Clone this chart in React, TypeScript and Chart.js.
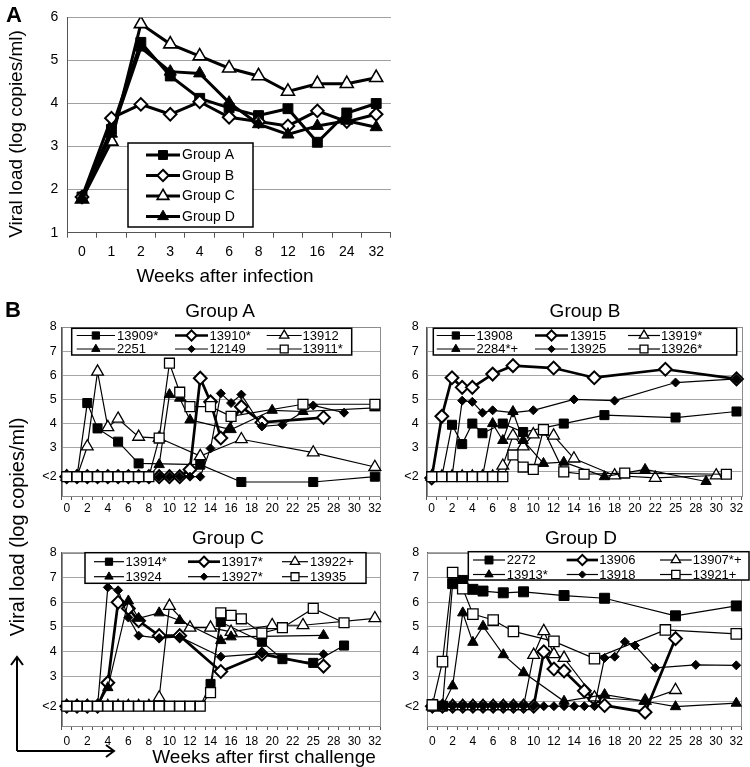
import React, { useEffect, useRef } from 'react';
import { Chart, registerables } from 'chart.js';
Chart.register(...registerables);

const FONT = "'Liberation Sans', Arial, Helvetica, sans-serif";

// ---------------- Panel A data ----------------
const A_WEEKS = ['0', '1', '2', '3', '4', '6', '8', '12', '16', '24', '32'];
const A_GROUP_A = [1.83, 3.4, 5.42, 4.64, 4.12, 3.9, 3.72, 3.88, 3.1, 3.78, 4.0];
const A_GROUP_B = [1.83, 3.66, 3.98, 3.75, 4.04, 3.68, 3.58, 3.48, 3.83, 3.58, 3.75];
const A_GROUP_C = [1.78, 3.12, 5.85, 5.38, 5.1, 4.82, 4.64, 4.28, 4.46, 4.46, 4.6];
const A_GROUP_D = [1.78, 3.3, 5.3, 4.74, 4.7, 4.02, 3.52, 3.28, 3.48, 3.6, 3.45];
const A_Y_TICKS = [1, 2, 3, 4, 5, 6];

// ---------------- Panel B axes ----------------
const B_WEEKS = ['0', '1', '2', '3', '4', '5', '6', '7', '8', '9', '10', '11', '12', '13', '14', '15', '16', '17', '18', '19', '20', '21', '22', '23', '25', '26', '28', '29', '30', '31', '32'];
const B_Y_TICKS = [1, 1.8, 2, 3, 4, 5, 6, 7, 8]; // 1.8 is the "<2" level

// ---------------- Group A ----------------
const GA_13909_W = ['0', '1', '2', '3', '5', '7', '13', '17', '25', '32'];
const GA_13909_V = [1.8, 1.8, 4.85, 3.8, 3.25, 2.35, 2.3, 1.58, 1.58, 1.8];
const GA_13910_W = ['0', '1', '2', '3', '4', '5', '6', '7', '8', '9', '10', '11', '12', '13', '14', '15', '17', '19', '26'];
const GA_13910_V = [1.8, 1.8, 1.8, 1.8, 1.8, 1.8, 1.8, 1.8, 1.8, 1.8, 1.8, 1.8, 2.1, 5.88, 4.9, 3.4, 4.7, 4.05, 4.25];
const GA_13912_W = ['0', '1', '2', '3', '4', '5', '7', '9', '13', '17', '25', '32'];
const GA_13912_V = [1.8, 1.8, 3.05, 6.15, 3.85, 4.2, 3.45, 3.4, 2.65, 3.35, 2.8, 2.2];
const GA_2251_W = ['0', '1', '2', '3', '4', '5', '6', '7', '8', '9', '10', '11', '12', '16', '20', '23', '32'];
const GA_2251_V = [1.8, 1.8, 1.8, 1.8, 1.8, 1.8, 1.8, 1.8, 1.8, 2.3, 5.2, 5.05, 4.15, 3.75, 4.55, 4.5, 4.65];
const GA_12149_W = ['0', '1', '2', '3', '4', '5', '6', '7', '8', '9', '10', '11', '12', '13', '14', '15', '16', '17', '19', '21', '25', '29'];
const GA_12149_V = [1.8, 1.8, 1.8, 1.8, 1.8, 1.8, 1.8, 1.8, 1.8, 1.8, 1.8, 1.8, 1.8, 1.8, 2.97, 5.25, 4.85, 5.2, 3.88, 3.95, 4.75, 4.45];
const GA_13911_W = ['0', '1', '2', '3', '4', '5', '6', '7', '8', '9', '10', '11', '12', '14', '16', '23', '32'];
const GA_13911_V = [1.8, 1.8, 1.8, 1.8, 1.8, 1.8, 1.8, 1.8, 1.8, 3.4, 6.5, 5.3, 4.7, 4.7, 4.3, 4.8, 4.8];

// ---------------- Group B ----------------
const GB_13908_W = ['0', '1', '2', '3', '4', '5', '7', '9', '13', '17', '25', '32'];
const GB_13908_V = [1.8, 1.8, 3.95, 3.15, 4.0, 3.6, 4.0, 3.65, 4.0, 4.35, 4.25, 4.5];
const GB_13915_W = ['0', '1', '2', '3', '4', '6', '8', '12', '16', '23', '32'];
const GB_13915_V = [1.75, 4.3, 5.9, 5.5, 5.5, 6.05, 6.4, 6.3, 5.9, 6.25, 5.85];
const GB_13919_W = ['0', '1', '2', '3', '4', '5', '6', '7', '8', '9', '10', '12', '14', '18', '22', '30'];
const GB_13919_V = [1.8, 1.8, 1.8, 1.8, 1.8, 1.8, 1.8, 2.25, 3.5, 3.05, 3.55, 3.5, 2.55, 1.85, 1.75, 1.85];
const GB_2284_W = ['0', '1', '2', '3', '4', '5', '6', '7', '8', '9', '11', '13', '17', '21', '29'];
const GB_2284_V = [1.8, 1.8, 1.8, 1.8, 1.8, 1.8, 4.0, 3.3, 4.5, 3.3, 2.35, 2.4, 1.8, 2.1, 1.6];
const GB_13925_W = ['0', '1', '2', '3', '4', '5', '6', '8', '10', '14', '18', '25', '32'];
const GB_13925_V = [1.8, 1.8, 1.8, 4.95, 4.9, 4.45, 4.55, 4.45, 4.55, 5.0, 4.95, 5.7, 5.85];
const GB_13926_W = ['0', '1', '2', '3', '4', '5', '6', '7', '8', '9', '10', '11', '13', '15', '19', '31'];
const GB_13926_V = [1.8, 1.8, 1.8, 1.8, 1.8, 1.8, 1.8, 1.8, 2.7, 2.2, 2.1, 3.75, 2.0, 1.9, 1.95, 1.9];

// ---------------- Group C ----------------
const GC_13914_W = ['0', '1', '2', '3', '4', '5', '6', '7', '8', '9', '10', '11', '12', '13', '14', '15', '19', '21', '25', '29'];
const GC_13914_V = [1.8, 1.8, 1.8, 1.8, 1.8, 1.8, 1.8, 1.8, 1.8, 1.8, 1.8, 1.8, 1.8, 1.8, 2.7, 5.2, 4.4, 3.7, 3.55, 4.25];
const GC_13917_W = ['0', '1', '2', '3', '4', '5', '6', '7', '9', '11', '15', '19', '26'];
const GC_13917_V = [1.8, 1.8, 1.8, 1.8, 2.75, 6.0, 5.75, 5.25, 4.65, 4.65, 3.2, 3.9, 3.42];
const GC_13922_W = ['0', '1', '2', '3', '4', '5', '6', '7', '8', '9', '10', '12', '14', '16', '20', '23', '32'];
const GC_13922_V = [1.8, 1.8, 1.8, 1.8, 1.8, 1.8, 1.8, 1.8, 1.8, 2.15, 5.85, 4.97, 4.97, 4.8, 5.07, 5.07, 5.35];
const GC_13924_W = ['0', '1', '2', '3', '4', '6', '7', '9', '11', '15', '16', '26'];
const GC_13924_V = [1.8, 1.8, 1.8, 1.8, 2.55, 6.05, 5.35, 5.57, 5.26, 4.45, 4.6, 4.66];
const GC_13927_W = ['0', '1', '2', '3', '4', '5', '6', '7', '9', '11', '15', '19', '26'];
const GC_13927_V = [1.8, 1.8, 1.8, 1.8, 6.6, 6.48, 5.38, 4.65, 4.55, 4.6, 3.8, 3.92, 3.9];
const GC_13935_W = ['0', '1', '2', '3', '4', '5', '6', '7', '8', '9', '10', '11', '12', '13', '14', '15', '16', '17', '19', '21', '25', '29'];
const GC_13935_V = [1.8, 1.8, 1.8, 1.8, 1.8, 1.8, 1.8, 1.8, 1.8, 1.8, 1.8, 1.8, 1.8, 1.8, 2.35, 5.57, 5.47, 5.33, 4.75, 4.97, 5.75, 5.17];

// ---------------- Group D ----------------
const GD_2272_W = ['0', '1', '2', '3', '4', '5', '7', '9', '13', '17', '25', '32'];
const GD_2272_V = [1.8, 1.8, 6.75, 6.88, 6.52, 6.45, 6.38, 6.42, 6.27, 6.16, 5.45, 5.85];
const GD_13906_W = ['0', '1', '2', '3', '4', '5', '6', '7', '8', '9', '10', '11', '12', '13', '15', '16', '17', '21', '25'];
const GD_13906_V = [1.8, 1.8, 1.8, 1.8, 1.8, 1.8, 1.8, 1.8, 1.8, 1.8, 1.8, 4.0, 3.3, 3.22, 2.42, 2.1, 1.83, 1.56, 4.53];
const GD_13907_W = ['0', '1', '2', '3', '4', '5', '6', '7', '8', '9', '10', '11', '12', '13', '16', '21', '25'];
const GD_13907_V = [1.8, 1.8, 1.8, 1.8, 1.8, 1.8, 1.8, 1.8, 1.8, 1.8, 3.87, 4.83, 3.9, 3.75, 2.15, 2.02, 2.45];
const GD_13913_W = ['0', '1', '2', '3', '4', '5', '7', '9', '13', '17', '21', '25', '32'];
const GD_13913_V = [1.8, 1.8, 2.62, 5.57, 4.38, 5.03, 3.88, 3.16, 2.0, 2.27, 2.0, 1.78, 1.92];
const GD_13918_W = ['0', '1', '2', '3', '4', '5', '6', '7', '8', '9', '10', '11', '12', '13', '14', '15', '16', '17', '18', '19', '20', '22', '28', '32'];
const GD_13918_V = [1.8, 1.8, 1.8, 1.8, 1.8, 1.8, 1.8, 1.8, 1.8, 1.8, 1.8, 1.8, 1.8, 1.8, 1.8, 1.8, 1.8, 3.75, 3.8, 4.4, 4.25, 3.35, 3.47, 3.45];
const GD_13921_W = ['0', '1', '2', '3', '4', '6', '8', '12', '16', '23', '32'];
const GD_13921_V = [1.85, 3.6, 7.2, 6.55, 5.52, 5.28, 4.82, 4.42, 3.72, 4.88, 4.72];

// ---------------- marker kinds ----------------
type Kind = 'sq' | 'osq' | 'tri' | 'ftri' | 'dia' | 'fdia';
const KIND_STYLE: Record<Kind, any> = {
  sq: { style: 'rect', filled: true, r: 6.4, bw: 1 },
  osq: { style: 'rect', filled: false, r: 7.0, bw: 1.3 },
  tri: { style: 'triangle', filled: false, r: 6.8, bw: 1.3 },
  ftri: { style: 'triangle', filled: true, r: 6.0, bw: 1 },
  dia: { style: 'rectRot', filled: false, r: 6.4, bw: 2 },
  fdia: { style: 'rectRot', filled: true, r: 4.5, bw: 1 },
};

function series(label: string, weeks: string[], values: number[], kind: Kind, thick: boolean, idx: number, scale = 1) {
  const k = KIND_STYLE[kind];
  return {
    label,
    data: weeks.map((w, i) => ({ x: w, y: values[i] })),
    borderColor: '#000',
    borderWidth: thick ? 2.7 : 1.2,
    pointStyle: k.style,
    pointRadius: k.r * scale,
    pointHoverRadius: k.r * scale,
    pointBackgroundColor: k.filled ? '#000' : '#fff',
    pointBorderColor: '#000',
    pointBorderWidth: k.bw,
    tension: 0,
    fill: false,
    order: -idx,
  };
}

function drawMarker(ctx: CanvasRenderingContext2D, style: string, x: number, y: number, r: number, fill: string, lw: number) {
  ctx.save();
  ctx.beginPath();
  if (style === 'rect') {
    const s = r * Math.SQRT1_2;
    ctx.rect(x - s, y - s, 2 * s, 2 * s);
  } else if (style === 'rectRot') {
    ctx.moveTo(x, y - r);
    ctx.lineTo(x + r, y);
    ctx.lineTo(x, y + r);
    ctx.lineTo(x - r, y);
    ctx.closePath();
  } else {
    for (let k = 0; k < 3; k++) {
      const a = (k * 2 * Math.PI) / 3;
      const px = x + Math.sin(a) * r;
      const py = y - Math.cos(a) * r;
      if (k === 0) ctx.moveTo(px, py);
      else ctx.lineTo(px, py);
    }
    ctx.closePath();
  }
  ctx.fillStyle = fill;
  ctx.fill();
  ctx.lineWidth = lw;
  ctx.strokeStyle = '#000';
  ctx.stroke();
  ctx.restore();
}

const boxLegend = {
  id: 'boxLegend',
  afterDatasetsDraw(chart: any, _args: any, opts: any) {
    if (!opts || !opts.box) return;
    const ctx = chart.ctx as CanvasRenderingContext2D;
    const [bx, by, bw, bh] = opts.box;
    ctx.save();
    ctx.fillStyle = '#fff';
    ctx.fillRect(bx, by, bw, bh);
    ctx.lineWidth = opts.lineWidth || 1.5;
    ctx.strokeStyle = '#000';
    ctx.strokeRect(bx, by, bw, bh);
    ctx.font = `${opts.fontSize}px ${FONT}`;
    ctx.textBaseline = 'middle';
    chart.data.datasets.forEach((ds: any, i: number) => {
      const col = opts.cols[i % opts.cols.length];
      const row = opts.rows[Math.floor(i / opts.cols.length)];
      ctx.beginPath();
      ctx.moveTo(col[0], row);
      ctx.lineTo(col[1], row);
      ctx.lineWidth = ds.borderWidth;
      ctx.strokeStyle = '#000';
      ctx.stroke();
      drawMarker(ctx, ds.pointStyle, (col[0] + col[1]) / 2, row, ds.pointRadius * (opts.markerScale || 1), ds.pointBackgroundColor, ds.pointBorderWidth);
      ctx.fillStyle = '#000';
      ctx.fillText(ds.label, col[2], row + 0.5);
    });
    ctx.restore();
  },
};

const frame = {
  id: 'frame',
  beforeDatasetsDraw(chart: any, _args: any, opts: any) {
    if (!opts || !opts.color) return;
    const { left, top, right, bottom } = chart.chartArea;
    const ctx = chart.ctx as CanvasRenderingContext2D;
    ctx.save();
    ctx.strokeStyle = opts.color;
    ctx.lineWidth = 1;
    ctx.strokeRect(Math.round(left) + 0.5, Math.round(top) + 0.5, Math.round(right - left), Math.round(bottom - top));
    ctx.restore();
  },
};

function panelBConfig(datasets: any[], geo: any, legend: any) {
  return {
    type: 'line',
    data: { labels: B_WEEKS, datasets },
    options: {
      responsive: false,
      animation: false,
      devicePixelRatio: 1,
      events: [],
      layout: { padding: { top: geo.padTop, right: geo.padRight, left: 0, bottom: 0 } },
      plugins: {
        legend: { display: false },
        tooltip: { enabled: false },
        title: { display: false },
        boxLegend: legend,
        frame: { color: '#8c8c8c' },
      },
      scales: {
        x: {
          type: 'category',
          labels: B_WEEKS,
          offset: true,
          afterFit: (s: any) => { s.height = geo.xHeight; },
          ticks: {
            autoSkip: false,
            maxRotation: 0,
            minRotation: 0,
            padding: geo.xPad,
            color: '#000',
            font: { family: FONT, size: 12 },
            callback: (_v: any, i: number) => (i % 2 === 0 ? B_WEEKS[i] : ''),
          },
          grid: { display: true, drawOnChartArea: false, drawTicks: true, tickLength: 4, offset: true, color: '#555' },
          border: { display: true, color: '#555', width: 1 },
        },
        y: {
          type: 'linear',
          min: 1,
          max: 8,
          afterFit: (s: any) => { s.width = geo.yWidth; },
          afterBuildTicks: (s: any) => { s.ticks = B_Y_TICKS.map((v) => ({ value: v })); },
          ticks: {
            autoSkip: false,
            padding: geo.yPad,
            color: '#000',
            font: { family: FONT, size: 12.5 },
            callback: (v: any) => (v === 1.8 ? '<2' : v === 1 || v === 2 ? '' : String(v)),
          },
          grid: {
            drawTicks: false,
            color: (c: any) => (c.tick && (c.tick.value === 1.8 || c.tick.value === 1) ? 'rgba(0,0,0,0)' : '#a6a6a6'),
          },
          border: { display: true, color: '#555', width: 1 },
        },
      },
    },
    plugins: [boxLegend, frame],
  };
}

function panelAConfig() {
  const mk = (label: string, values: number[], style: string, filled: boolean, r: number, bw: number, idx: number) => ({
    label,
    data: values,
    borderColor: '#000',
    borderWidth: 3,
    pointStyle: style,
    pointRadius: r,
    pointHoverRadius: r,
    pointBackgroundColor: filled ? '#000' : '#fff',
    pointBorderColor: '#000',
    pointBorderWidth: bw,
    tension: 0,
    fill: false,
    order: -idx,
  });
  return {
    type: 'line',
    data: {
      labels: A_WEEKS,
      datasets: [
        mk('Group A', A_GROUP_A, 'rect', true, 7, 1, 0),
        mk('Group B', A_GROUP_B, 'rectRot', false, 6.3, 2, 1),
        mk('Group C', A_GROUP_C, 'triangle', false, 7.5, 1.6, 2),
        mk('Group D', A_GROUP_D, 'triangle', true, 7, 1, 3),
      ],
    },
    options: {
      responsive: false,
      animation: false,
      devicePixelRatio: 1,
      events: [],
      layout: { padding: { top: 16, right: 0, left: 0, bottom: 0 } },
      plugins: {
        legend: { display: false },
        tooltip: { enabled: false },
        title: { display: false },
        boxLegend: {
          box: [128, 143, 125, 84],
          rows: [155, 175.5, 196, 216.5],
          cols: [[146, 180, 182]],
          fontSize: 14,
          markerScale: 0.9,
        },
      },
      scales: {
        x: {
          type: 'category',
          offset: true,
          afterFit: (s: any) => { s.height = 32.3; },
          ticks: { autoSkip: false, maxRotation: 0, minRotation: 0, padding: 6, color: '#000', font: { family: FONT, size: 14 } },
          grid: { display: true, drawOnChartArea: false, drawTicks: true, tickLength: 5, offset: true, color: '#555' },
          border: { display: true, color: '#555', width: 1 },
        },
        y: {
          type: 'linear',
          min: 1,
          max: 6,
          afterFit: (s: any) => { s.width = 67.3; },
          afterBuildTicks: (s: any) => { s.ticks = A_Y_TICKS.map((v) => ({ value: v })); },
          ticks: { padding: 9, color: '#000', font: { family: FONT, size: 14 } },
          grid: { drawTicks: false, color: (c: any) => (c.tick && c.tick.value === 1 ? 'rgba(0,0,0,0)' : '#a0a0a0') },
          border: { display: true, color: '#555', width: 1 },
        },
      },
    },
    plugins: [boxLegend],
  };
}

function ChartBox(props: { left: number; top: number; width: number; height: number; clipWidth?: number; make: () => any }) {
  const ref = useRef<HTMLCanvasElement | null>(null);
  useEffect(() => {
    if (!ref.current) return;
    const chart = new Chart(ref.current, props.make());
    return () => chart.destroy();
  }, []);
  const { left, top, width, height, clipWidth } = props;
  return (
    <div style={{ position: 'absolute', left, top, width: clipWidth ?? width, height, overflow: 'hidden' }}>
      <canvas ref={ref} width={width} height={height} style={{ display: 'block', width, height }} />
    </div>
  );
}

const LEG_A = { box: [71.7, 28.3, 280, 26.7], rows: [35.5, 49], cols: [[76.7, 115, 117], [175, 208, 209.5], [266.7, 301.7, 302.5]], fontSize: 13, markerScale: 0.8 };
const LEG_B = { box: [68.3, 28.3, 303.4, 26.7], rows: [35.5, 49], cols: [[71.7, 110, 111.5], [170, 203, 205], [263, 295, 296]], fontSize: 13, markerScale: 0.8 };
const LEG_C = { box: [85, 27.7, 281, 30.6], rows: [36.7, 51.7], cols: [[94, 124, 125.5], [188, 220, 221.5], [282, 308, 310]], fontSize: 13, markerScale: 0.8 };
const LEG_D = { box: [103.3, 26.7, 280.7, 28.3], rows: [35, 49.5], cols: [[108, 140, 141.7], [201.7, 233, 234.3], [295, 326.7, 327.7]], fontSize: 13, markerScale: 0.8 };

const GEO_TOP_LEFT = { padTop: 27, padRight: 10, yWidth: 61.6, xHeight: 24, xPad: 1, yPad: 5 };
const GEO_TOP_RIGHT = { padTop: 27, padRight: 5.6, yWidth: 61.6, xHeight: 24, xPad: 1, yPad: 8 };
const GEO_BOT_LEFT = { padTop: 27.7, padRight: 10, yWidth: 61.6, xHeight: 34, xPad: 4, yPad: 5 };
const GEO_BOT_RIGHT = { padTop: 27.7, padRight: 5, yWidth: 62.3, xHeight: 34, xPad: 4, yPad: 8 };

const makeGroupA = () =>
  panelBConfig(
    [
      series('13909*', GA_13909_W, GA_13909_V, 'sq', false, 0),
      series('13910*', GA_13910_W, GA_13910_V, 'dia', true, 1),
      series('13912', GA_13912_W, GA_13912_V, 'tri', false, 2),
      series('2251', GA_2251_W, GA_2251_V, 'ftri', false, 3),
      series('12149', GA_12149_W, GA_12149_V, 'fdia', false, 4),
      series('13911*', GA_13911_W, GA_13911_V, 'osq', false, 5),
    ],
    GEO_TOP_LEFT,
    LEG_A
  );
const makeGroupB = () =>
  panelBConfig(
    [
      series('13908', GB_13908_W, GB_13908_V, 'sq', false, 0),
      series('13915', GB_13915_W, GB_13915_V, 'dia', true, 1),
      series('13919*', GB_13919_W, GB_13919_V, 'tri', false, 2),
      series('2284*+', GB_2284_W, GB_2284_V, 'ftri', false, 3),
      series('13925', GB_13925_W, GB_13925_V, 'fdia', false, 4),
      series('13926*', GB_13926_W, GB_13926_V, 'osq', false, 5),
    ],
    GEO_TOP_RIGHT,
    LEG_B
  );
const makeGroupC = () =>
  panelBConfig(
    [
      series('13914*', GC_13914_W, GC_13914_V, 'sq', false, 0),
      series('13917*', GC_13917_W, GC_13917_V, 'dia', true, 1),
      series('13922+', GC_13922_W, GC_13922_V, 'tri', false, 2),
      series('13924', GC_13924_W, GC_13924_V, 'ftri', false, 3),
      series('13927*', GC_13927_W, GC_13927_V, 'fdia', false, 4),
      series('13935', GC_13935_W, GC_13935_V, 'osq', false, 5),
    ],
    GEO_BOT_LEFT,
    LEG_C
  );
const makeGroupD = () =>
  panelBConfig(
    [
      series('2272', GD_2272_W, GD_2272_V, 'sq', false, 0, 1.1),
      series('13906', GD_13906_W, GD_13906_V, 'dia', true, 1),
      series('13907*+', GD_13907_W, GD_13907_V, 'tri', false, 2),
      series('13913*', GD_13913_W, GD_13913_V, 'ftri', false, 3),
      series('13918', GD_13918_W, GD_13918_V, 'fdia', false, 4),
      series('13921+', GD_13921_W, GD_13921_V, 'osq', false, 5, 1.05),
    ],
    GEO_BOT_RIGHT,
    LEG_D
  );

function Label(props: { x: number; y: number; size: number; bold?: boolean; rotate?: boolean; children: any }) {
  return (
    <div
      style={{
        position: 'absolute',
        left: props.x,
        top: props.y,
        transform: `translate(-50%, -50%)${props.rotate ? ' rotate(-90deg)' : ''}`,
        whiteSpace: 'nowrap',
        fontFamily: FONT,
        fontSize: props.size,
        fontWeight: props.bold ? 'bold' : 'normal',
        lineHeight: 1,
        color: '#000',
      }}
    >
      {props.children}
    </div>
  );
}

export default function App() {
  return (
    <div style={{ position: 'fixed', left: 0, top: 0, width: 750, height: 767, background: '#fff', overflow: 'hidden' }}>
      <ChartBox left={0} top={0} width={400} height={265} clipWidth={392} make={panelAConfig} />
      <ChartBox left={0} top={300} width={390} height={220} make={makeGroupA} />
      <ChartBox left={365} top={300} width={385} height={220} make={makeGroupB} />
      <ChartBox left={0} top={525} width={390} height={235} make={makeGroupC} />
      <ChartBox left={365} top={525} width={385} height={235} make={makeGroupD} />

      <Label x={14} y={15} size={22} bold>A</Label>
      <Label x={13} y={310} size={22} bold>B</Label>
      <Label x={15} y={134} size={19} rotate>Viral load (log copies/ml)</Label>
      <Label x={225} y={275} size={19}>Weeks after infection</Label>

      <Label x={220} y={310} size={19}>Group A</Label>
      <Label x={585} y={310} size={19}>Group B</Label>
      <Label x={228} y={537} size={19}>Group C</Label>
      <Label x={581} y={537} size={19}>Group D</Label>

      <Label x={17} y={527} size={20} rotate>Viral load (log copies/ml)</Label>
      <Label x={264} y={756} size={19}>Weeks after first challenge</Label>

      <svg width={750} height={767} style={{ position: 'absolute', left: 0, top: 0, pointerEvents: 'none' }}>
        <g stroke="#000" strokeWidth={2} fill="none">
          <path d="M17 751 L17 658" />
          <path d="M11 665 L17 657 L23 665" />
          <path d="M17 751 L113 751" />
          <path d="M106 745 L114 751 L106 757" />
        </g>
      </svg>
    </div>
  );
}
